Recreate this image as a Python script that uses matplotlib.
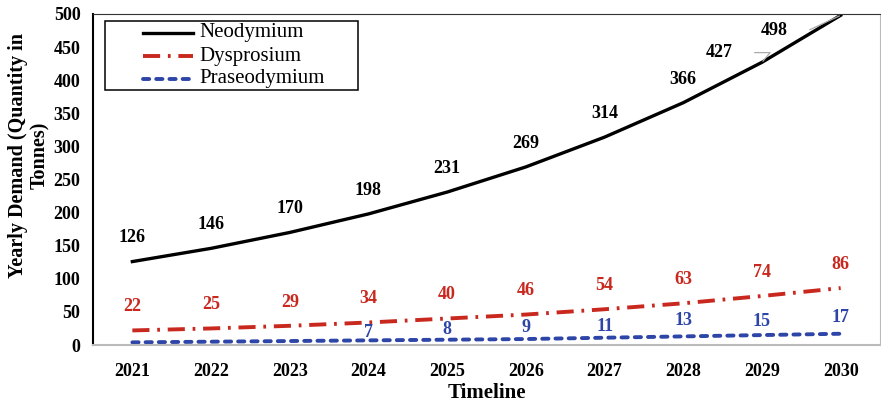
import matplotlib.pyplot as plt
from matplotlib.lines import Line2D
from matplotlib.patches import Rectangle

years = ['2021', '2022', '2023', '2024', '2025', '2026', '2027', '2028', '2029', '2030']
neodymium = [126, 146, 170, 198, 231, 269, 314, 366, 427, 498]
dysprosium = [22, 25, 29, 34, 40, 46, 54, 63, 74, 86]
praseodymium = [4, 5, 6, 7, 8, 9, 11, 13, 15, 17]
# blue labels only shown from 2024 on
praseo_labelled = [False, False, False, True, True, True, True, True, True, True]
series_names = ['Neodymium', 'Dysprosium', 'Praseodymium']

RED = '#c8281e'
BLUE = '#2e45a8'
W, H = 881, 403

plt.rcParams['font.family'] = ['Liberation Serif', 'DejaVu Serif']

fig = plt.figure(figsize=(W / 100, H / 100), dpi=100)
ax = fig.add_axes([93 / W, 58 / H, 787 / W, 331 / H])

x = list(range(len(years)))
styles = [
    dict(color='black', lw=2.4),
    dict(color=RED, lw=2.8, dashes=(4.4, 2.0, 0.7, 2.0)),
    dict(color=BLUE, lw=2.8, dashes=(1.6, 1.8), dash_capstyle='round'),
]
ax.plot(x, neodymium, **styles[0])
ax.plot(x, dysprosium, **styles[1])
ax.plot(x, praseodymium, **styles[2])

# data labels
lab_kw = dict(textcoords='offset points', ha='center', va='center',
              fontsize=13, fontweight='bold')
for i, v in enumerate(neodymium):
    if i == 8:
        ax.annotate(str(v), (i, v), xytext=(-31, 7), **lab_kw,
                    arrowprops=dict(arrowstyle='-', color='#aaaaaa', lw=0.9,
                                    connectionstyle='angle,angleA=0,angleB=50,rad=0',
                                    shrinkA=14, shrinkB=1))
    elif i == 9:
        ax.annotate(str(v), (i, v), xytext=(-48, -11), **lab_kw,
                    arrowprops=dict(arrowstyle='-', color='#aaaaaa', lw=0.9,
                                    connectionstyle='angle,angleA=0,angleB=25,rad=0',
                                    shrinkA=14, shrinkB=1))
    else:
        ax.annotate(str(v), (i, v), xytext=(0, 17), **lab_kw)

for i, v in enumerate(dysprosium):
    ax.annotate(str(v), (i, v), xytext=(0, 17), color=RED, **lab_kw)

praseo_offsets = [0, 0, 0, 6, 7, 8.5, 8, 11.5, 9.5, 11.5]
for i, v in enumerate(praseodymium):
    if praseo_labelled[i]:
        ax.annotate(str(v), (i, v), xytext=(0, praseo_offsets[i]), color=BLUE, **lab_kw)

ax.set_xlim(-0.5, len(years) - 0.5)
ax.set_ylim(0, 500)
ax.set_xticks(x)
ax.set_xticklabels(years)
ax.set_yticks(range(0, 501, 50))
ax.tick_params(length=0, labelsize=13)
ax.tick_params(axis='y', pad=9)
ax.tick_params(axis='x', pad=13)
for lab in ax.get_xticklabels() + ax.get_yticklabels():
    lab.set_fontweight('bold')

ax.spines['left'].set_color('black')
ax.spines['left'].set_linewidth(1.5)
ax.spines['top'].set_color('#333333')
ax.spines['right'].set_color('#bbbbbb')
ax.spines['bottom'].set_color('#bbbbbb')
ax.spines['bottom'].set_linewidth(1.5)

fig.text(487 / W, 1 - 393 / H, 'Timeline', fontsize=15, fontweight='bold',
         ha='center', va='center')
fig.text(29 / W, 1 - 155 / H, 'Yearly Demand (Quantity in\nTonnes)', fontsize=14.5,
         fontweight='bold', rotation=90, ha='center', va='center',
         multialignment='center', linespacing=1.15)

# legend box drawn like the original (handles indented from the frame)
fig.add_artist(Rectangle((105 / W, 1 - 90 / H), 253 / W, 69 / H, transform=fig.transFigure,
                         facecolor='white', edgecolor='black', lw=1.1, zorder=5))
for row, (name, st) in enumerate(zip(series_names, styles)):
    yy = 1 - (33 + row * 23) / H
    fig.add_artist(Line2D([143 / W, 193 / W], [yy, yy], transform=fig.transFigure,
                          zorder=6, **st))
    fig.text(199 / W, yy, name, fontsize=15, ha='left', va='center', zorder=6)

fig.savefig('out.png', dpi=100)
